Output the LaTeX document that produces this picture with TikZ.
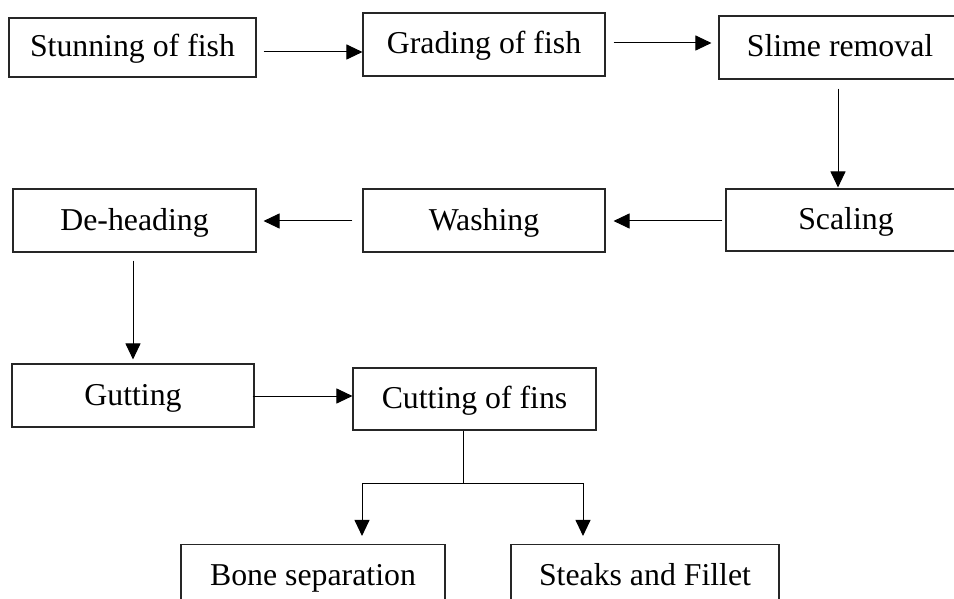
\documentclass[tikz,border=0pt]{standalone}
\usepackage{fontspec}
\setmainfont{Liberation Serif}
\usetikzlibrary{arrows.meta}
\tikzset{
  box/.style={draw=black!85, line width=1.1pt, rectangle, inner sep=0pt,
    font=\fontsize{31.8}{38}\selectfont, text=black,
    text height=24pt, text depth=5pt},
  arr/.style={draw=black, line width=1pt, -{Triangle[length=16pt,width=15pt]}},
  ln/.style={draw=black, line width=1pt}
}
\begin{document}
\begin{tikzpicture}[x=1pt,y=-1pt]
\useasboundingbox (0,0) rectangle (954,599);
\clip (0,0) rectangle (954,599);
\fill[white] (0,0) rectangle (954,599);
% nodes
\node[box, minimum width=247pt, minimum height=59pt] (stun) at (132.5,47.5) {Stunning of fish};
\node[box, minimum width=242pt, minimum height=63pt] (grade) at (484,44.5) {Grading of fish};
\node[box, minimum width=242pt, minimum height=63pt] (slime) at (840,47.5) {Slime removal};
\node[box, minimum width=240pt, minimum height=62pt] (scale) at (846,220) {Scaling};
\node[box, minimum width=242pt, minimum height=63pt] (wash) at (484,220.5) {Washing};
\node[box, minimum width=243pt, minimum height=63pt] (dehead) at (134.5,220.5) {De-heading};
\node[box, minimum width=242pt, minimum height=63pt] (gut) at (133,395.5) {Gutting};
\node[box, minimum width=243pt, minimum height=62pt] (cut) at (474.5,399) {Cutting of fins};
\node[box, minimum width=264pt, minimum height=63pt] (bone) at (313,576) {Bone separation};
\node[box, minimum width=268pt, minimum height=63pt] (steak) at (645,576) {Steaks and Fillet};
% connectors
\coordinate (a1) at ([xshift=7pt,yshift=-4.5pt]stun.east);
\draw[arr] (a1) -- (a1 -| grade.west);
\coordinate (a2) at ([xshift=8pt,yshift=1.5pt]grade.east);
\coordinate (a2e) at ([xshift=-7pt]slime.west);
\draw[arr] (a2) -- (a2 -| a2e);
\coordinate (a3) at ([xshift=-2pt,yshift=-9pt]slime.south);
\coordinate (a3e) at ([yshift=1pt]scale.north);
\draw[arr] (a3) -- (a3 |- a3e);
\coordinate (a4) at ([xshift=-3pt,yshift=-1pt]scale.west);
\coordinate (a4e) at ([xshift=8pt]wash.east);
\draw[arr] (a4) -- (a4 -| a4e);
\coordinate (a5) at ([xshift=-10pt,yshift=-0.5pt]wash.west);
\coordinate (a5e) at ([xshift=7pt]dehead.east);
\draw[arr] (a5) -- (a5 -| a5e);
\coordinate (a6) at ([xshift=-1.5pt,yshift=-8pt]dehead.south);
\coordinate (a6e) at ([yshift=4pt]gut.north);
\draw[arr] (a6) -- (a6 |- a6e);
\coordinate (a7) at ([xshift=-2pt,yshift=-0.5pt]gut.east);
\draw[arr] (a7) -- (a7 -| cut.west);
\coordinate (b0) at ([xshift=-11.5pt]cut.south);
\coordinate (bj) at ([yshift=-53pt]b0);
\coordinate (bL) at ([xshift=49pt,yshift=8pt]bone.north);
\coordinate (bR) at ([xshift=-62pt,yshift=8pt]steak.north);
\draw[ln] (b0) -- (bj);
\draw[arr] (bj) -| (bL);
\draw[arr] (bj) -| (bR);
\end{tikzpicture}
\end{document}
